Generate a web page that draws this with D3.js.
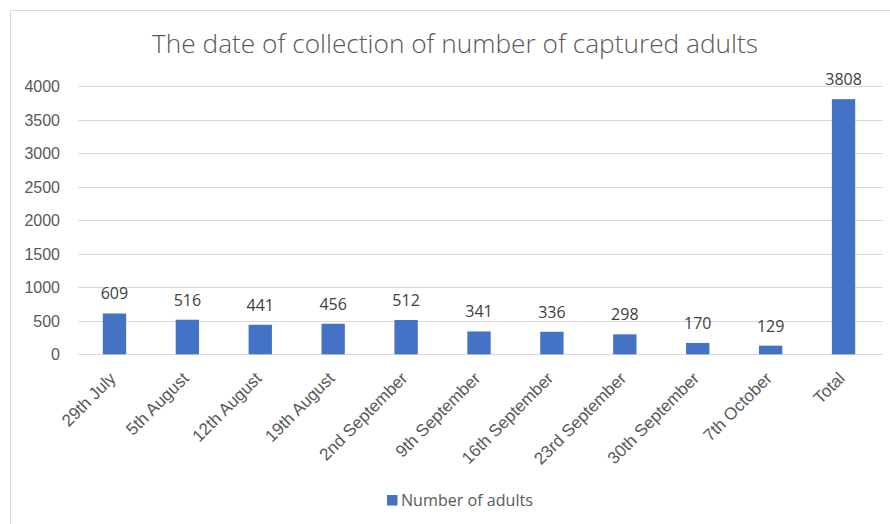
<!DOCTYPE html>
<html>
<head>
<meta charset="utf-8">
<script src="https://cdn.jsdelivr.net/npm/d3@7"></script>
<style>
  html, body { margin: 0; padding: 0; background: #fff; }
  svg { display: block; font-family: "Open Sans", "Noto Sans", sans-serif; }
</style>
</head>
<body>
<svg id="chart" width="890" height="524"></svg>
<script>
const categories = ["29th July", "5th August", "12th August", "19th August", "2nd September",
  "9th September", "16th September", "23rd September", "30th September", "7th October", "Total"];
const values = [609, 516, 441, 456, 512, 341, 336, 298, 170, 129, 3808];
const yTicks = [0, 500, 1000, 1500, 2000, 2500, 3000, 3500, 4000];
const title = "The date of collection of number of captured adults";
const seriesName = "Number of adults";

const svg = d3.select("#chart");
const textColor = "#595959";
const barColor = "#4472C4";
const gridColor = "#d9d9d9";

// chart area border (left & top visible)
svg.append("line").attr("x1", 10.5).attr("x2", 10.5).attr("y1", 10).attr("y2", 524)
  .attr("stroke", "#d9d9d9").attr("stroke-width", 1);
svg.append("line").attr("x1", 10).attr("x2", 890).attr("y1", 10.5).attr("y2", 10.5)
  .attr("stroke", "#d9d9d9").attr("stroke-width", 1);

const x = d3.scaleBand().domain(categories).range([78, 880]).paddingInner(0.68).paddingOuter(0.34);
const y = d3.scaleLinear().domain([0, 4000]).range([354.3, 86.3]);

// gridlines
svg.append("g").selectAll("line").data(yTicks).join("line")
  .attr("x1", 78).attr("x2", 883)
  .attr("y1", d => Math.round(y(d)) + 0.5).attr("y2", d => Math.round(y(d)) + 0.5)
  .attr("stroke", gridColor).attr("stroke-width", 1);

// y axis labels
const yAxis = d3.axisLeft(y).tickValues(yTicks).tickSize(0).tickPadding(0).tickFormat(d3.format("d"));
const yg = svg.append("g").attr("transform", "translate(60,0)").call(yAxis);
yg.select(".domain").remove();
yg.selectAll("text").attr("fill", textColor).style("font-size", "16px").attr("dy", "0.35em");

// bars
svg.append("g").selectAll("rect").data(values).join("rect")
  .attr("x", (d, i) => x(categories[i]))
  .attr("width", x.bandwidth())
  .attr("y", d => y(d))
  .attr("height", d => y(0) - y(d))
  .attr("fill", barColor);

// data labels
svg.append("g").selectAll("text").data(values).join("text")
  .attr("x", (d, i) => x(categories[i]) + x.bandwidth() / 2)
  .attr("y", d => y(d) - 14)
  .attr("text-anchor", "middle")
  .attr("fill", "#404040")
  .style("font-size", "16px")
  .text(d => d);

// x axis labels
const xAxis = d3.axisBottom(x).tickSize(0).tickPadding(0);
const xg = svg.append("g").attr("transform", "translate(0,371)").call(xAxis);
xg.select(".domain").remove();
xg.selectAll("text")
  .attr("fill", textColor)
  .style("font-size", "17px")
  .attr("text-anchor", "end")
  .attr("dy", "0.7em")
  .attr("dx", "0")
  .attr("transform", "translate(-6,0) rotate(-45)");

// title
const t = svg.append("text")
  .attr("x", 455).attr("y", 53)
  .attr("text-anchor", "middle")
  .attr("fill", textColor)
  .style("font-size", "26px")
  .style("font-weight", 300)
  .text(title);
const tw = t.node().getComputedTextLength();
t.style("font-size", (26 * 606 / tw).toFixed(2) + "px");

// legend
const lg = svg.append("g");
lg.append("rect").attr("x", 387).attr("y", 495).attr("width", 10.5).attr("height", 10.5).attr("fill", barColor);
const lt = lg.append("text").attr("x", 401).attr("y", 506)
  .attr("fill", textColor).style("font-size", "15px").text(seriesName);
const lw = lt.node().getComputedTextLength();
lt.style("font-size", (15 * 132 / lw).toFixed(2) + "px");
</script>
</body>
</html>
